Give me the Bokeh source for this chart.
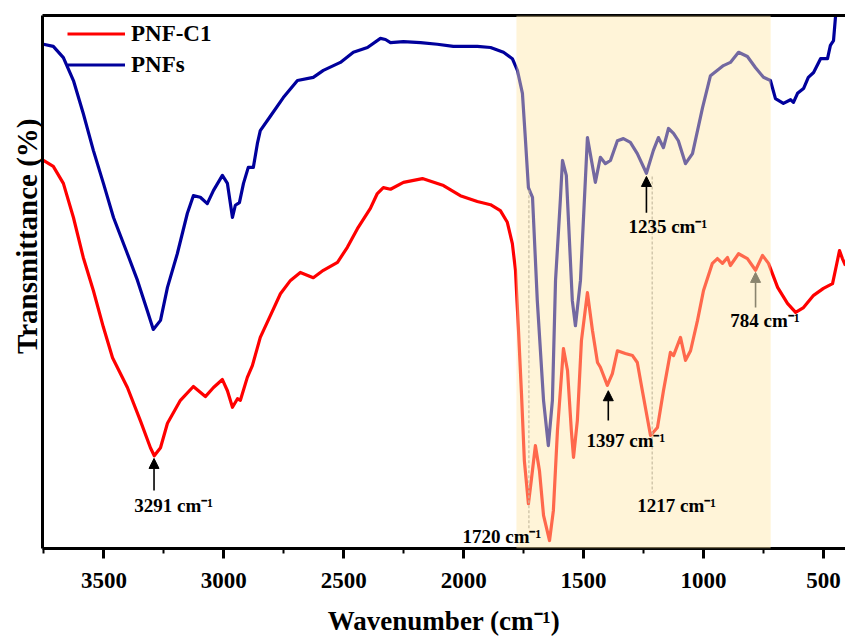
import math
from bokeh.plotting import figure
from bokeh.models import (Range1d, FixedTicker, LinearAxis, BoxAnnotation, Label,
                          Arrow, NormalHead, Title)
from bokeh.embed import file_html
from bokeh.resources import INLINE

# ---------------- data ----------------
blue_wn = [3752, 3711, 3669, 3627, 3586, 3544, 3502, 3460, 3402, 3360,
           3319, 3294, 3264, 3235, 3194, 3152, 3127, 3098, 3069, 3043,
           3006, 2985, 2964, 2952, 2935, 2918, 2898, 2877, 2860, 2848,
           2806, 2752, 2693, 2627, 2585, 2514, 2460, 2401, 2347, 2326,
           2305, 2251, 2180, 2110, 2043, 1943, 1888, 1834, 1797, 1776,
           1755, 1743, 1730, 1713, 1693, 1667, 1647, 1630, 1617, 1597,
           1588, 1572, 1547, 1534, 1513, 1484, 1451, 1430, 1409, 1388,
           1359, 1334, 1305, 1276, 1238, 1209, 1188, 1167, 1146, 1125,
           1105, 1075, 1046, 1004, 971, 917, 888, 854, 817, 783,
           750, 721, 700, 667, 637, 625, 608, 583, 563, 541,
           512, 483, 471, 458, 450, 437]
blue_t = [94.6, 94.2, 92.1, 87.8, 81.6, 74.7, 68.5, 62.1, 55.3, 50.3,
          44.6, 41.1, 42.8, 49.0, 55.3, 62.9, 66.2, 65.9, 64.7, 67.2,
          70.0, 68.5, 62.1, 64.4, 64.9, 68.5, 71.5, 71.5, 76.0, 78.4,
          81.1, 84.6, 87.8, 88.4, 89.7, 91.2, 93.1, 94.0, 95.7, 95.5,
          94.9, 95.1, 94.9, 94.6, 94.2, 94.2, 94.0, 93.1, 91.9, 89.7,
          85.4, 77.1, 67.7, 65.9, 46.5, 27.8, 19.3, 27.8, 50.3, 65.3,
          72.8, 70.0, 46.5, 41.8, 50.3, 77.1, 68.7, 73.4, 72.2, 72.8,
          76.5, 76.9, 76.2, 74.1, 70.4, 74.7, 77.1, 75.2, 78.8, 77.9,
          76.5, 72.2, 74.1, 82.7, 88.7, 90.6, 91.2, 93.1, 92.3, 90.2,
          88.4, 87.8, 84.4, 83.5, 84.2, 83.7, 85.4, 86.3, 88.4, 89.3,
          91.9, 91.9, 94.4, 95.3, 99.6, 104.7]

red_wn = [3752, 3711, 3669, 3627, 3586, 3544, 3502, 3464, 3402, 3348,
          3306, 3290, 3264, 3235, 3181, 3127, 3077, 3043, 3006, 2985,
          2964, 2943, 2931, 2902, 2881, 2848, 2806, 2764, 2722, 2681,
          2627, 2585, 2526, 2485, 2443, 2389, 2360, 2335, 2305, 2251,
          2172, 2084, 2014, 1943, 1888, 1847, 1818, 1797, 1784, 1772,
          1759, 1747, 1730, 1718, 1701, 1684, 1667, 1642, 1626, 1609,
          1584, 1567, 1551, 1542, 1526, 1509, 1484, 1463, 1442, 1430,
          1401, 1380, 1359, 1326, 1296, 1276, 1255, 1221, 1192, 1167,
          1138, 1125, 1096, 1075, 1054, 1025, 1000, 963, 942, 921,
          900, 888, 854, 817, 783, 754, 729, 691, 650, 616,
          583, 541, 500, 462, 446, 433, 421, 408]
red_t = [72.8, 71.7, 68.5, 62.1, 54.6, 48.4, 41.5, 35.8, 30.2, 24.0,
         18.9, 17.4, 18.9, 23.5, 27.8, 30.4, 28.5, 30.2, 31.7, 29.6,
         26.5, 28.1, 27.8, 32.1, 34.3, 39.6, 43.7, 47.8, 50.3, 51.8,
         50.8, 52.2, 53.7, 56.5, 60.0, 63.8, 66.6, 67.7, 67.4, 68.7,
         69.4, 68.1, 66.2, 65.1, 64.5, 63.4, 61.2, 57.2, 52.2, 41.5,
         29.1, 16.5, 8.4, 12.8, 19.3, 14.6, 6.2, 1.5, 7.1, 22.1,
         37.5, 33.4, 22.1, 17.1, 24.0, 39.0, 48.0, 40.9, 34.9, 34.0,
         30.6, 32.8, 37.1, 36.6, 36.2, 34.9, 29.6, 21.2, 22.7, 29.6,
         36.8, 36.2, 39.6, 35.3, 37.1, 42.8, 48.4, 53.5, 54.4, 53.5,
         54.6, 53.1, 55.3, 54.4, 52.2, 55.0, 53.5, 49.0, 46.0, 44.3,
         45.2, 47.5, 48.8, 49.7, 53.1, 55.9, 54.4, 53.1]

series_names = ["PNF-C1", "PNFs"]
x_ticks = [3500, 3000, 2500, 2000, 1500, 1000, 500]
x_minor = [3750, 3250, 2750, 2250, 1750, 1250, 750]

# highlighted band (cm-1)
band = [1780, 720]

# peak annotations
arrow_x = [3291, 1397, 1238, 783]
arrow_y0 = [10.9, 24.0, 63.0, 45.2]
arrow_y1 = [16.9, 29.6, 69.8, 51.8]
arrow_col = ["black", "black", "black", "#8a846e"]

label_text = ["3291 cm\u207b\u00b9", "1720 cm\u207b\u00b9", "1397 cm\u207b\u00b9",
              "1217 cm\u207b\u00b9", "1235 cm\u207b\u00b9", "784 cm\u207b\u00b9"]
label_x = [3373, 2005, 1488, 1276, 1313, 888]
label_y = [8.1, 2.3, 20.3, 8.1, 60.4, 42.8]

dash_x = [1728, 1214]
dash_y0 = [67.2, 69.8]
dash_y1 = [3.4, 10.5]

FONT = "Liberation Serif"

p = figure(width=845, height=640, output_backend="svg", toolbar_location=None,
           x_range=Range1d(3756, 408), y_range=Range1d(0, 100),
           min_border_left=42, min_border_right=0, min_border_top=15,
           min_border_bottom=92)
p.outline_line_color = None
p.xgrid.visible = False
p.ygrid.visible = False
p.background_fill_color = "white"
p.border_fill_color = "white"

# curves
p.line(red_wn, red_t, color="#ff0000", line_width=3.2, line_join="round",
       legend_label=series_names[0])
p.line(blue_wn, blue_t, color="#00009c", line_width=3.2, line_join="round",
       legend_label=series_names[1])

# dashed guide lines
p.segment(x0=dash_x, y0=dash_y0, x1=dash_x, y1=dash_y1, line_color="#9a9a9a",
          line_width=1.2, line_dash="3 2")

# shaded band (drawn over the curves)
p.add_layout(BoxAnnotation(left=band[0], right=band[1], fill_color="#ffe6a8",
                           fill_alpha=0.45, line_color=None))

# arrows
for x, y0, y1, c in zip(arrow_x, arrow_y0, arrow_y1, arrow_col):
    p.add_layout(Arrow(x_start=x, y_start=y0, x_end=x, y_end=y1,
                       line_color=c, line_width=1.6,
                       end=NormalHead(size=10, fill_color=c, line_color=c)))

# peak labels
for t, x, y in zip(label_text, label_x, label_y):
    p.add_layout(Label(x=x, y=y, text=t, text_font=FONT, text_font_style="bold",
                       text_font_size="19px", text_align="left",
                       text_baseline="middle", text_color="black"))

# x axis
xa = p.xaxis[0]
xa.ticker = FixedTicker(ticks=x_ticks, minor_ticks=x_minor)
xa.axis_line_width = 3
xa.axis_line_color = "black"
xa.major_tick_line_width = 3
xa.major_tick_out = 10
xa.major_tick_in = 0
xa.minor_tick_line_width = 2
xa.minor_tick_out = 5
xa.minor_tick_in = 0
xa.major_label_text_font = FONT
xa.major_label_text_font_style = "bold"
xa.major_label_text_font_size = "23px"
xa.major_label_text_color = "black"
xa.major_label_standoff = 14
xa.axis_label = "Wavenumber (cm\u207b\u00b9)"
xa.axis_label_text_font = FONT
xa.axis_label_text_font_style = "bold"
xa.axis_label_text_font_size = "27px"
xa.axis_label_text_color = "black"
xa.axis_label_standoff = 15

# y axis: line only
ya = p.yaxis[0]
ya.ticker = FixedTicker(ticks=[])
ya.axis_line_width = 3
ya.axis_line_color = "black"
ya.major_tick_line_color = None
ya.minor_tick_line_color = None
ya.major_label_text_font_size = "0px"

top = LinearAxis(ticker=FixedTicker(ticks=[]), axis_line_width=3, axis_line_color="black",
                 major_tick_line_color=None, minor_tick_line_color=None,
                 major_label_text_font_size="0px")
p.add_layout(top, "above")

# y axis title (placed as a side title so it can sit above centre like the original)
p.add_layout(Title(text="Transmittance (%)", align="right", offset=103,
                   vertical_align="bottom", standoff=0,
                   text_font=FONT, text_font_style="bold", text_font_size="29px",
                   text_color="black"), "left")

# legend
lg = p.legend[0]
lg.location = (25, 468)
lg.margin = 0
lg.padding = 0
lg.spacing = 0
lg.glyph_width = 58
lg.glyph_height = 31
lg.label_height = 31
lg.label_standoff = 6
lg.label_text_font = FONT
lg.label_text_font_style = "bold"
lg.label_text_font_size = "23px"
lg.label_text_color = "black"
lg.background_fill_alpha = 0
lg.border_line_color = None

open("out.html", "w").write(file_html(p, INLINE))
